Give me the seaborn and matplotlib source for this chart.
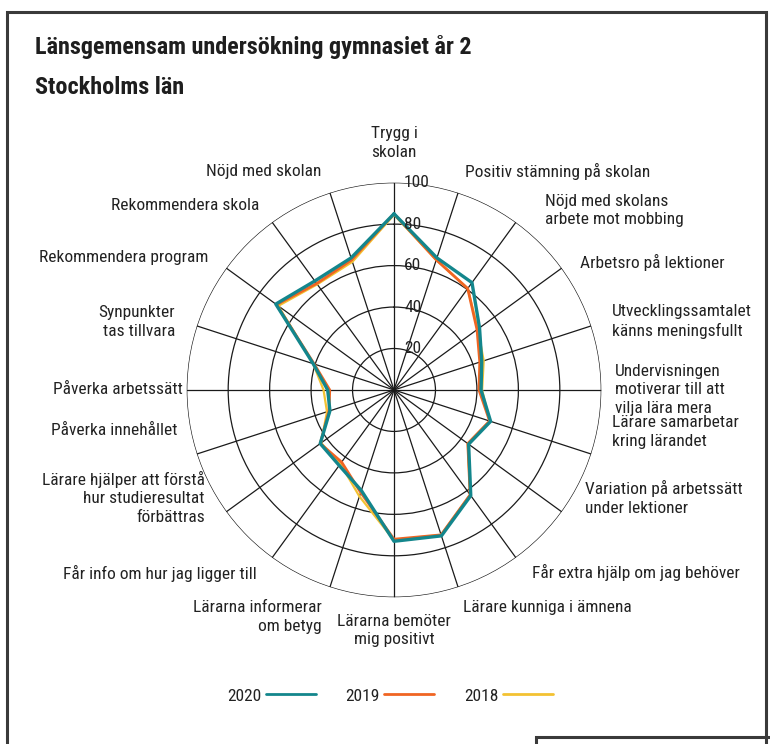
import numpy as np
import pandas as pd
import matplotlib
matplotlib.use("Agg")
import matplotlib.pyplot as plt
import matplotlib.patches as patches
from matplotlib import font_manager as fm
from matplotlib.transforms import offset_copy
from matplotlib.lines import Line2D
import seaborn as sns

# categories, clockwise from the top
categories = [
    "Trygg i\nskolan",
    "Positiv stämning på skolan",
    "Nöjd med skolans\narbete mot mobbing",
    "Arbetsro på lektioner",
    "Utvecklingssamtalet\nkänns meningsfullt",
    "Undervisningen\nmotiverar till att\nvilja lära mera",
    "Lärare samarbetar\nkring lärandet",
    "Variation på arbetssätt\nunder lektioner",
    "Får extra hjälp om jag behöver",
    "Lärare kunniga i ämnena",
    "Lärarna bemöter\nmig positivt",
    "Lärarna informerar\nom betyg",
    "Får info om hur jag ligger till",
    "Lärare hjälper att förstå\nhur studieresultat\nförbättras",
    "Påverka innehållet",
    "Påverka arbetssätt",
    "Synpunkter\ntas tillvara",
    "Rekommendera program",
    "Rekommendera skola",
    "Nöjd med skolan",
]

v2020 = [85, 67, 64, 51, 44.5, 42, 49, 44.5, 63, 74, 73, 51, 45, 44, 32.5, 32, 41, 70.5, 65, 67]
v2019 = [85, 66, 60.5, 49.5, 43.5, 41, 48.5, 44, 62.5, 73.5, 72, 52, 43, 44, 33, 31, 40.5, 70, 63.5, 66]
v2018 = [84.5, 66, 60.5, 50, 45.5, 42.5, 48.5, 44, 62.5, 73.5, 72.5, 54, 44, 43.5, 34, 34, 41, 69, 63, 65]

years = ["2020", "2019", "2018"]
colors = {"2020": "#13868c", "2019": "#f06522", "2018": "#f3c232"}
widths = {"2020": 2.4, "2019": 2.0, "2018": 1.6}

rings = [20, 40, 60, 80, 100]

# label placement: angle (deg), radius, ha, va
label_pos = [
    (0, 111, "center", "bottom"),
    (18, 110.6, "left", "center"),
    (40, 113, "left", "center"),
    (55.5, 109, "left", "center"),
    (72.6, 110, "left", "center"),
    (90, 106.6, "left", "center"),
    (101, 107, "left", "center"),
    (119.5, 106, "left", "center"),
    (143, 110.5, "left", "center"),
    (162.4, 110.3, "left", "center"),
    (180, 108, "center", "top"),
    (197.6, 114.9, "right", "center"),
    (216.7, 110.7, "right", "center"),
    (240.3, 105, "right", "center"),
    (259.5, 106, "right", "center"),
    (270, 102, "right", "center"),
    (287.2, 110.6, "right", "center"),
    (305.4, 110, "right", "center"),
    (323.9, 110, "right", "center"),
    (341.7, 111, "right", "center"),
]

sns.set_theme(style="white")

# pick a condensed face if one is installed
have = {(f.name, f.stretch) for f in fm.fontManager.ttflist}
names = {f.name for f in fm.fontManager.ttflist}
font_kw = {"family": ["Liberation Sans", "DejaVu Sans"], "stretch": "normal"}
fs, tfs = 11.5, 15.5
for cand in ["Liberation Sans Narrow", "Roboto Condensed", "Open Sans Condensed"]:
    if cand in names:
        font_kw = {"family": [cand, "DejaVu Sans"], "stretch": "normal"}
        fs, tfs = 12.5, 17.4
        break
else:
    if ("DejaVu Sans", "condensed") in have:
        font_kw = {"family": ["DejaVu Sans"], "stretch": "condensed"}
        fs, tfs = 11.5, 15.5
plt.rcParams["font.family"] = font_kw["family"]
plt.rcParams["font.stretch"] = font_kw["stretch"]

n = len(categories)
angles = np.linspace(0, 2 * np.pi, n, endpoint=False)

rows = []
for year, vals in zip(years, [v2020, v2019, v2018]):
    for a, v in zip(list(angles) + [2 * np.pi], vals + vals[:1]):
        rows.append({"theta": a, "value": v, "year": year})
df = pd.DataFrame(rows)

fig = plt.figure(figsize=(7.7, 7.44), dpi=100)
ax = fig.add_axes([0.2425, 0.1972, 0.5384, 0.5573], projection="polar")
ax.set_theta_zero_location("N")
ax.set_theta_direction(-1)

for year in ["2018", "2019", "2020"]:
    sns.lineplot(data=df[df["year"] == year], x="theta", y="value", ax=ax,
                 color=colors[year], lw=widths[year], errorbar=None,
                 legend=False, zorder=3)

ax.set_ylim(0, 100)
ax.set_xticks(angles)
ax.set_xticklabels([])
ax.set_yticks(rings)
ax.set_yticklabels([])
ax.grid(True, color="#1a1a1a", lw=0.9)
ax.spines["polar"].set_visible(False)
ax.set_xlabel("")
ax.set_ylabel("")
ax.set_facecolor("none")

# radial value labels just right of the vertical spoke
off = offset_copy(ax.transData, fig=fig, x=10, y=0, units="dots")
for r in rings:
    ax.text(0, r, str(r), transform=off, ha="left", va="center",
            fontsize=fs, color="#222222", zorder=4)

for lab, (deg, r, ha, va) in zip(categories, label_pos):
    ax.text(np.deg2rad(deg), r, lab, ha=ha, va=va, fontsize=fs,
            color="#222222", multialignment=ha if ha != "center" else "center",
            clip_on=False, linespacing=1.3)

# title
fig.text(35 / 770, 1 - 47 / 744, "Länsgemensam undersökning gymnasiet år 2",
         fontsize=tfs, fontweight="bold", color="#1e1e1e", ha="left", va="center")
fig.text(35 / 770, 1 - 87 / 744, "Stockholms län",
         fontsize=tfs, fontweight="bold", color="#1e1e1e", ha="left", va="center")

# legend: text first, then line
handles = [Line2D([], [], color=colors[y], lw=2.0) for y in years]
fig.legend(handles, years, loc="center", bbox_to_anchor=(390 / 770, 1 - 696 / 744),
           ncol=3, frameon=False, markerfirst=False, handlelength=2.9,
           handletextpad=0.25, columnspacing=1.7, fontsize=fs,
           labelcolor="#222222")

# outer frame and small box bottom right
fig.patches.append(patches.Rectangle((7 / 770, -0.1), 759 / 770, 1 - 12 / 744 + 0.1,
                                     transform=fig.transFigure, fill=False,
                                     lw=2.2, ec="#3a3a3a"))
fig.patches.append(patches.Rectangle((536 / 770, -0.1), 0.5, 0.1 + 7 / 744,
                                     transform=fig.transFigure, fill=False,
                                     lw=2.2, ec="#3a3a3a"))

fig.savefig("out.png", dpi=100, facecolor="white")
